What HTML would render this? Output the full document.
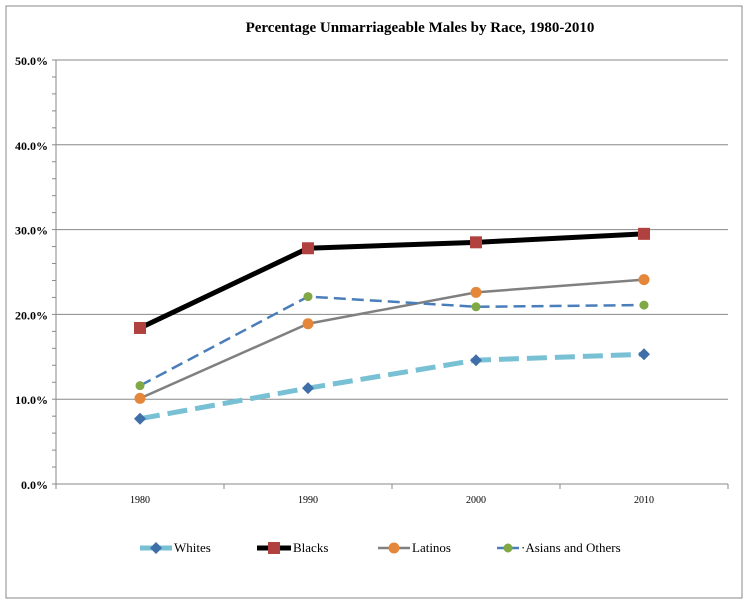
<!DOCTYPE html>
<html><head><meta charset="utf-8"><style>
body{margin:0;background:#fff;}
svg{display:block;font-family:"Liberation Serif",serif;}
</style></head><body>
<svg id="chart" width="748" height="608">
<rect x="6" y="6" width="736" height="592" fill="#fff" stroke="#888" stroke-width="1"/>
<text x="420" y="32" text-anchor="middle" font-size="15" font-weight="bold">Percentage  Unmarriageable Males by Race, 1980-2010</text>
<g id="grid"></g><g id="axes"></g><g id="series"></g><g id="legend"></g>
</svg>
<script>
const categories=["1980","1990","2000","2010"];
const yTicks=[0,10,20,30,40,50];
const whites=[7.7,11.3,14.6,15.3];
const blacks=[18.4,27.8,28.5,29.5];
const latinos=[10.1,18.9,22.6,24.1];
const asians=[11.6,22.1,20.9,21.1];

const NS="http://www.w3.org/2000/svg";
const X0=56,X1=728,Y0=484,Y1=60;
const band=(X1-X0)/categories.length;
const xs=i=>X0+band*(i+0.5);
const ys=v=>Y0-(v/50)*(Y0-Y1);
function mk(tag,attrs,parent){const e=document.createElementNS(NS,tag);for(const k in attrs)e.setAttribute(k,attrs[k]);parent.appendChild(e);return e;}
const grid=document.getElementById('grid'),axes=document.getElementById('axes'),ser=document.getElementById('series'),leg=document.getElementById('legend');
yTicks.forEach(t=>{
  if(t>0){const g=mk('line',{x1:X0,x2:X1,y1:ys(t),y2:ys(t),stroke:'#888','stroke-width':1},grid);
  
  }
  const l=mk('text',{x:X0-8,y:ys(t)+5,'text-anchor':'end','font-size':12,'font-weight':'bold'},axes);
  l.textContent=t.toFixed(1)+'%';
  
  
});
for(let v=0;v<=50;v+=2){mk('line',{x1:X0-4,x2:X0,y1:ys(v),y2:ys(v),stroke:'#888'},axes);}
const ya=mk('line',{x1:X0,x2:X0,y1:Y1,y2:Y0,stroke:'#888'},axes);

const xa=mk('line',{x1:X0,x2:X1,y1:Y0,y2:Y0,stroke:'#888'},axes);

for(let i=0;i<=categories.length;i++)mk('line',{x1:X0+band*i,x2:X0+band*i,y1:Y0,y2:Y0+5,stroke:'#888'},axes);
categories.forEach((c,i)=>{const t=mk('text',{x:xs(i),y:Y0+19,'text-anchor':'middle','font-size':10},axes);t.textContent=c;
});
function marker(type,x,y,color,p){
  if(type==='diamond')return mk('polygon',{points:`${x},${y-6} ${x+6},${y} ${x},${y+6} ${x-6},${y}`,fill:color},p);
  if(type==='square')return mk('rect',{x:x-6,y:y-6,width:12,height:12,fill:color},p);
  return mk('circle',{cx:x,cy:y,r:type==='small'?4.5:5.5,fill:color},p);
}
const series=[
 {name:'Whites',data:whites,color:'#78c0d4',w:5,dash:'20,8',m:'diamond',mc:'#3f6fa8'},
 {name:'Blacks',data:blacks,color:'#000',w:5,dash:'',m:'square',mc:'#b0413e'},
 {name:'Latinos',data:latinos,color:'#808080',w:2.5,dash:'',m:'circle',mc:'#e5873a'},
 {name:'Asians and Others',data:asians,color:'#4a7ebb',w:2.5,dash:'12,6',m:'small',mc:'#80a844'}];
series.forEach(s=>{
  const pl=mk('polyline',{points:s.data.map((v,i)=>xs(i)+','+ys(v)).join(' '),fill:'none',stroke:s.color,'stroke-width':s.w,'stroke-dasharray':s.dash},ser);
  
  
  s.data.forEach((v,i)=>{const m=marker(s.m,xs(i),ys(v),s.mc,ser);
    
    });
});
const lx=[140,257,378,497],lw=[32,34,32,22];
series.forEach((s,i)=>{
  const g=mk('g',{},leg);
  
  
  mk('line',{x1:lx[i],x2:lx[i]+lw[i],y1:548,y2:548,stroke:s.color,'stroke-width':s.w},g);
  marker(s.m,lx[i]+lw[i]/2,548,s.mc,g);
  const t=mk('text',{x:lx[i]+lw[i]+2,y:552,'font-size':13},g);
  t.textContent=(i===3?'·':'')+s.name;
});
</script>
</body></html>
